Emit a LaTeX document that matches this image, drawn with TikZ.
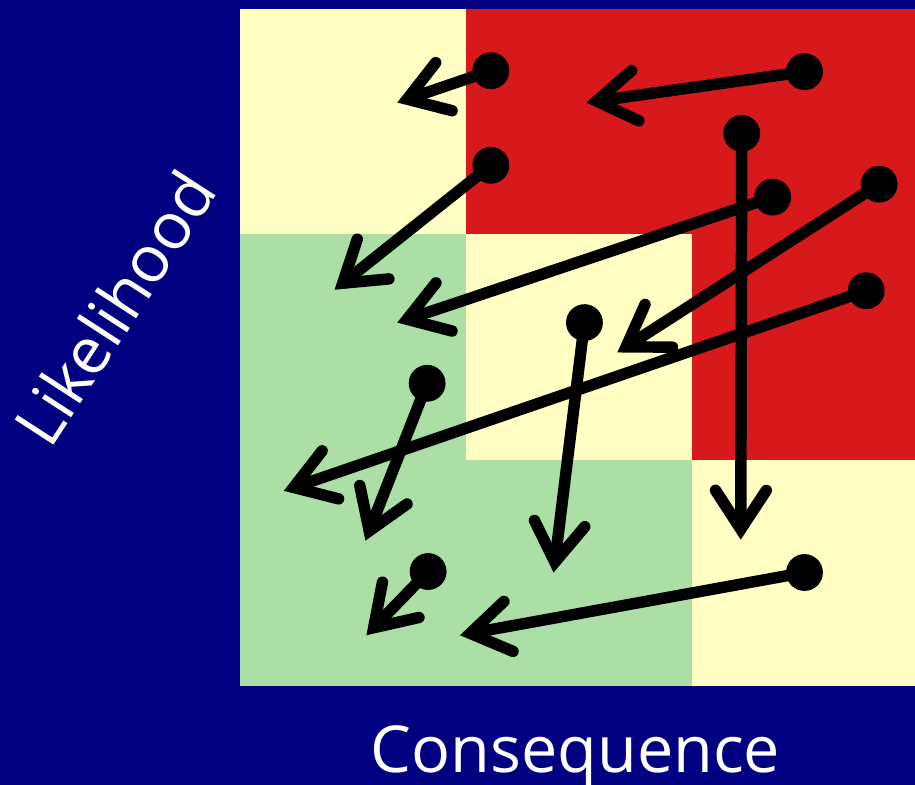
\documentclass[tikz,border=0pt]{standalone}
\usepackage{fontspec}
\setmainfont{Open Sans}
\usetikzlibrary{arrows.meta}
\definecolor{navy}{HTML}{000080}
\definecolor{hi}{HTML}{D7191C}
\definecolor{mid}{HTML}{FFFFC4}
\definecolor{lo}{HTML}{ABDFA6}
\tikzset{dot/.style={circle,fill=black,inner sep=0pt,minimum size=.74cm},
move/.style={line width=.23cm,line cap=round,-{Straight Barb[length=.78cm,width=1.02cm,line join=miter,line cap=round]}},
lbl/.style={text=white,font=\fontsize{37}{40}\selectfont}}
\begin{document}
\begin{tikzpicture}[x=.02cm,y=-.02cm]
\fill[navy](-2,-2)rectangle(917,786);
\useasboundingbox(0,0)rectangle(915,784);
% risk cells
\fill[mid](239,7)rectangle(466,233);\fill[hi](466,7)rectangle(920,233);
\fill[lo](239,233)rectangle(466,460);\fill[mid](466,233)rectangle(693,460);\fill[hi](693,233)rectangle(920,460);
\fill[lo](239,460)rectangle(693,687);\fill[mid](693,460)rectangle(920,687);
\node[lbl,anchor=base](cons)at(576,774){Consequence};
\node[lbl,rotate=57](like)at(113,307){Likelihood};
% moves
\node[dot](a1)at(491,69){};\coordinate(e1)at(397,101);\draw[move](a1.center)--(e1);
\node[dot](a2)at(806,70){};\coordinate(e2)at(587,101);\draw[move](a2.center)--(e2);
\node[dot](a3)at(491,164){};\coordinate(e3)at(334,289);\draw[move](a3.center)--(e3);
\node[dot](a4)at(743,132){};\coordinate(e4)at(742,540);\draw[move](a4.center)--(e4);
\node[dot](a5)at(774,196){};\coordinate(e5)at(397,322);\draw[move](a5.center)--(e5);
\node[dot](a6)at(881,183){};\coordinate(e6)at(618,352);\draw[move](a6.center)--(e6);
\node[dot](a7)at(868,290){};\coordinate(e7)at(283,491);\draw[move](a7.center)--(e7);
\node[dot](a8)at(585,322){};\coordinate(e8)at(554,573);\draw[move](a8.center)--(e8);
\node[dot](a9)at(427,383){};\coordinate(e9)at(365,541);\draw[move](a9.center)--(e9);
\node[dot](a10)at(428,572){};\coordinate(e10)at(366,636);\draw[move](a10.center)--(e10);
\node[dot](a11)at(806,573){};\coordinate(e11)at(460,636);\draw[move](a11.center)--(e11);
\end{tikzpicture}
\end{document}
